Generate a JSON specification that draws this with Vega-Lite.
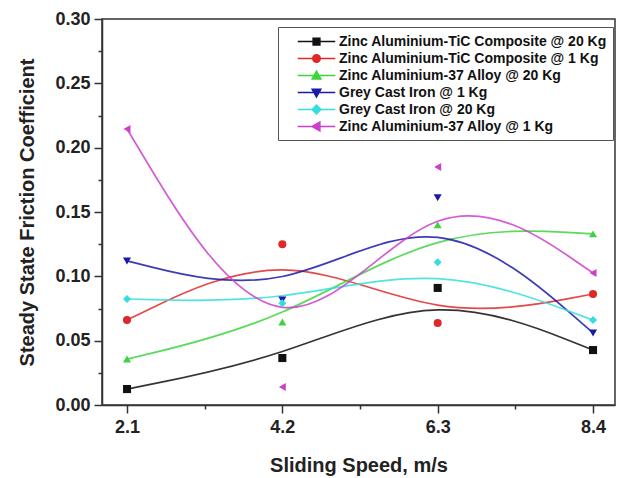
{
  "$schema": "https://vega.github.io/schema/vega-lite/v6.json",
  "width": 513,
  "height": 386,
  "autosize": {"type": "none"},
  "padding": {"left": 102, "top": 19, "right": 11, "bottom": 73},
  "background": "white",
  "config": {
    "view": {"stroke": "#333", "strokeWidth": 1.5},
    "font": "Liberation Sans",
    "axis": {
      "domainColor": "#333", "domainWidth": 1.5, "tickColor": "#333", "tickWidth": 1.5,
      "labelFont": "Liberation Sans", "labelFontWeight": "bold", "labelFontSize": 18, "labelColor": "#222",
      "titleFont": "Liberation Sans", "titleFontWeight": "bold", "titleFontSize": 20, "titleColor": "#222",
      "grid": false
    }
  },
  "data": {
    "values": [
      {"speed": 2.1, "cof": 0.0124, "series": "Zinc Aluminium-TiC Composite @ 20 Kg"},
      {"speed": 4.2, "cof": 0.0365, "series": "Zinc Aluminium-TiC Composite @ 20 Kg"},
      {"speed": 6.3, "cof": 0.091, "series": "Zinc Aluminium-TiC Composite @ 20 Kg"},
      {"speed": 8.4, "cof": 0.0427, "series": "Zinc Aluminium-TiC Composite @ 20 Kg"},
      {"speed": 2.1, "cof": 0.066, "series": "Zinc Aluminium-TiC Composite @ 1 Kg"},
      {"speed": 4.2, "cof": 0.125, "series": "Zinc Aluminium-TiC Composite @ 1 Kg"},
      {"speed": 6.3, "cof": 0.0637, "series": "Zinc Aluminium-TiC Composite @ 1 Kg"},
      {"speed": 8.4, "cof": 0.0863, "series": "Zinc Aluminium-TiC Composite @ 1 Kg"},
      {"speed": 2.1, "cof": 0.0357, "series": "Zinc Aluminium-37 Alloy @ 20 Kg"},
      {"speed": 4.2, "cof": 0.0645, "series": "Zinc Aluminium-37 Alloy @ 20 Kg"},
      {"speed": 6.3, "cof": 0.140, "series": "Zinc Aluminium-37 Alloy @ 20 Kg"},
      {"speed": 8.4, "cof": 0.133, "series": "Zinc Aluminium-37 Alloy @ 20 Kg"},
      {"speed": 2.1, "cof": 0.112, "series": "Grey Cast Iron @ 1 Kg"},
      {"speed": 4.2, "cof": 0.0816, "series": "Grey Cast Iron @ 1 Kg"},
      {"speed": 6.3, "cof": 0.161, "series": "Grey Cast Iron @ 1 Kg"},
      {"speed": 8.4, "cof": 0.056, "series": "Grey Cast Iron @ 1 Kg"},
      {"speed": 2.1, "cof": 0.0824, "series": "Grey Cast Iron @ 20 Kg"},
      {"speed": 4.2, "cof": 0.079, "series": "Grey Cast Iron @ 20 Kg"},
      {"speed": 6.3, "cof": 0.111, "series": "Grey Cast Iron @ 20 Kg"},
      {"speed": 8.4, "cof": 0.066, "series": "Grey Cast Iron @ 20 Kg"},
      {"speed": 2.1, "cof": 0.2145, "series": "Zinc Aluminium-37 Alloy @ 1 Kg"},
      {"speed": 4.2, "cof": 0.014, "series": "Zinc Aluminium-37 Alloy @ 1 Kg"},
      {"speed": 6.3, "cof": 0.185, "series": "Zinc Aluminium-37 Alloy @ 1 Kg"},
      {"speed": 8.4, "cof": 0.1026, "series": "Zinc Aluminium-37 Alloy @ 1 Kg"}
    ]
  },
  "layer": [
    {
      "mark": {"type": "line", "interpolate": "basis", "strokeWidth": 1.7, "opacity": 0.85},
      "encoding": {
        "x": {
          "field": "speed", "type": "quantitative",
          "scale": {"domain": [1.762, 8.697], "nice": false, "zero": false},
          "axis": {"values": [2.1, 4.2, 6.3, 8.4], "format": ".1f", "tickSize": 8, "labelPadding": 5, "title": "Sliding Speed, m/s", "titlePadding": 19, "labelFlush": false}
        },
        "y": {
          "field": "cof", "type": "quantitative",
          "scale": {"domain": [0, 0.30], "nice": false},
          "axis": {"values": [0, 0.05, 0.1, 0.15, 0.2, 0.25, 0.3], "format": ".2f", "tickSize": 8, "labelPadding": 4, "title": "Steady State Friction Coefficient", "titlePadding": 17, "labelFlush": false}
        },
        "color": {
          "field": "series", "type": "nominal",
          "scale": {
            "domain": ["Zinc Aluminium-TiC Composite @ 20 Kg", "Zinc Aluminium-TiC Composite @ 1 Kg", "Zinc Aluminium-37 Alloy @ 20 Kg", "Grey Cast Iron @ 1 Kg", "Grey Cast Iron @ 20 Kg", "Zinc Aluminium-37 Alloy @ 1 Kg"],
            "range": ["#111111", "#e02828", "#3fd43f", "#1a1aaa", "#35dede", "#cc3fcc"]
          },
          "legend": {
            "title": null, "orient": "none", "legendX": 176, "legendY": 8,
            "strokeColor": "#555", "fillColor": "white", "padding": 6,
            "labelFont": "Liberation Sans", "labelFontWeight": "bold", "labelFontSize": 14, "labelColor": "#111",
            "symbolSize": 225, "symbolStrokeWidth": 1.5, "symbolOffset": 24, "labelOffset": 14, "rowPadding": 1,
            "symbolOpacity": 1,
            "labelLimit": 400,
            "encode": {
              "symbols": {
                "update": {
                  "shape": {"signal": "['M-2.5,0H2.5M-0.45,-0.45H0.45V0.45H-0.45Z', 'M-2.5,0H2.5M0.5,0A0.5,0.5,0,1,1,-0.5,0A0.5,0.5,0,1,1,0.5,0Z', 'M-2.5,0H2.5M0,-0.58L0.58,0.45L-0.58,0.45Z', 'M-2.5,0H2.5M0,0.58L0.58,-0.45L-0.58,-0.45Z', 'M-2.5,0H2.5M0,-0.58L0.58,0L0,0.58L-0.58,0Z', 'M-2.5,0H2.5M-0.58,0L0.45,-0.58L0.45,0.58Z'][indexof(['Zinc Aluminium-TiC Composite @ 20 Kg', 'Zinc Aluminium-TiC Composite @ 1 Kg', 'Zinc Aluminium-37 Alloy @ 20 Kg', 'Grey Cast Iron @ 1 Kg', 'Grey Cast Iron @ 20 Kg', 'Zinc Aluminium-37 Alloy @ 1 Kg'], datum.value)]"},
                  "fill": {"scale": "color", "field": "value"},
                  "stroke": {"scale": "color", "field": "value"},
                  "strokeWidth": {"value": 1.5},
                  "opacity": {"value": 1}
                }
              }
            }
          }
        },
        "detail": {"field": "series"}
      }
    },
    {
      "mark": {
        "type": "point", "filled": true, "size": 65, "opacity": 1,
        "shape": {"expr": "['square', 'circle', 'triangle-up', 'triangle-down', 'diamond', 'triangle-left'][indexof(['Zinc Aluminium-TiC Composite @ 20 Kg', 'Zinc Aluminium-TiC Composite @ 1 Kg', 'Zinc Aluminium-37 Alloy @ 20 Kg', 'Grey Cast Iron @ 1 Kg', 'Grey Cast Iron @ 20 Kg', 'Zinc Aluminium-37 Alloy @ 1 Kg'], datum.series)]"}
      },
      "encoding": {
        "x": {
          "field": "speed", "type": "quantitative",
          "scale": {"domain": [1.762, 8.697], "nice": false, "zero": false},
          "axis": {"orient": "bottom", "values": [3.15, 5.25, 7.35], "tickSize": 4, "labels": false, "domain": false, "title": null}
        },
        "y": {
          "field": "cof", "type": "quantitative",
          "scale": {"domain": [0, 0.30], "nice": false},
          "axis": {"orient": "left", "values": [0.025, 0.075, 0.125, 0.175, 0.225, 0.275], "tickSize": 4, "labels": false, "domain": false, "title": null}
        },
        "color": {"field": "series", "type": "nominal"}
      }
    }
  ],
  "resolve": {"axis": {"x": "independent", "y": "independent"}}
}
